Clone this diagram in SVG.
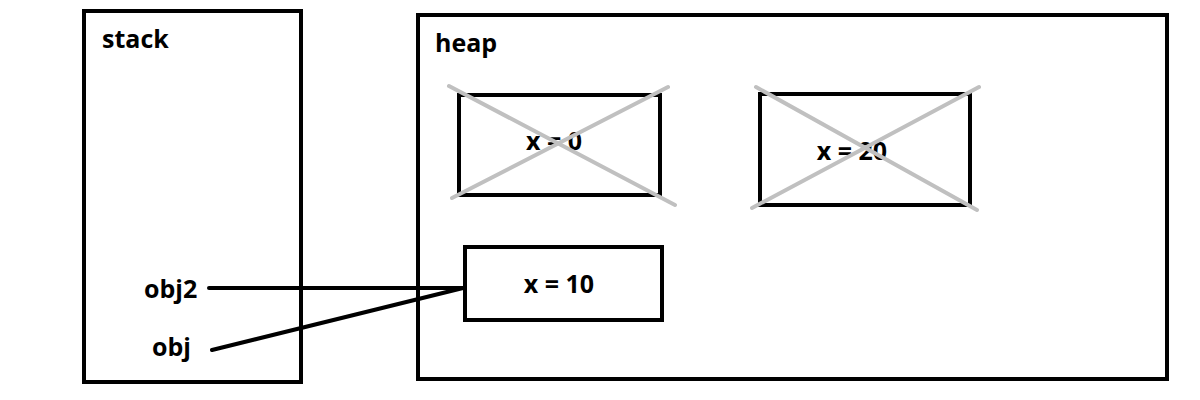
<svg xmlns="http://www.w3.org/2000/svg" width="1200" height="400" viewBox="0 0 1200 400">
<style>
.box{fill:none;stroke:#000;stroke-width:4}
.t{font-family:"Open Sans","Liberation Sans",sans-serif;font-weight:bold;font-size:25px;fill:#000}
.x{stroke:#c0c0c0;stroke-width:4;stroke-linecap:round}
.c{stroke:#000;stroke-width:4;stroke-linecap:round;fill:none}
</style>
<rect width="1200" height="400" fill="#fff"/>
<g id="stack">
<rect class="box" x="84" y="11" width="217" height="371"/>
<text class="t" x="102" y="48">stack</text>
<text class="t" x="144" y="298">obj2</text>
<text class="t" x="152" y="356">obj</text>
</g>
<g id="heap">
<rect class="box" x="418" y="15" width="749" height="364"/>
<text class="t" x="435" y="52">heap</text>
</g>
<g id="obj0">
<rect class="box" x="459" y="95" width="201" height="100"/>
<text class="t" x="554" y="150" text-anchor="middle">x = 0</text>
<line class="x" x1="449" y1="86" x2="675" y2="205"/>
<line class="x" x1="668" y1="87" x2="452" y2="198"/>
</g>
<g id="obj20">
<rect class="box" x="760" y="94" width="210" height="111"/>
<text class="t" x="852" y="160" text-anchor="middle">x = 20</text>
<line class="x" x1="756" y1="87" x2="977" y2="210"/>
<line class="x" x1="979" y1="87" x2="752" y2="208"/>
</g>
<g id="obj10">
<rect class="box" x="465" y="247" width="197" height="73"/>
<text class="t" x="559" y="293" text-anchor="middle">x = 10</text>
</g>
<g id="connectors">
<line class="c" x1="209" y1="288" x2="463" y2="288"/>
<line class="c" x1="212" y1="350" x2="463" y2="288"/>
</g>
</svg>
